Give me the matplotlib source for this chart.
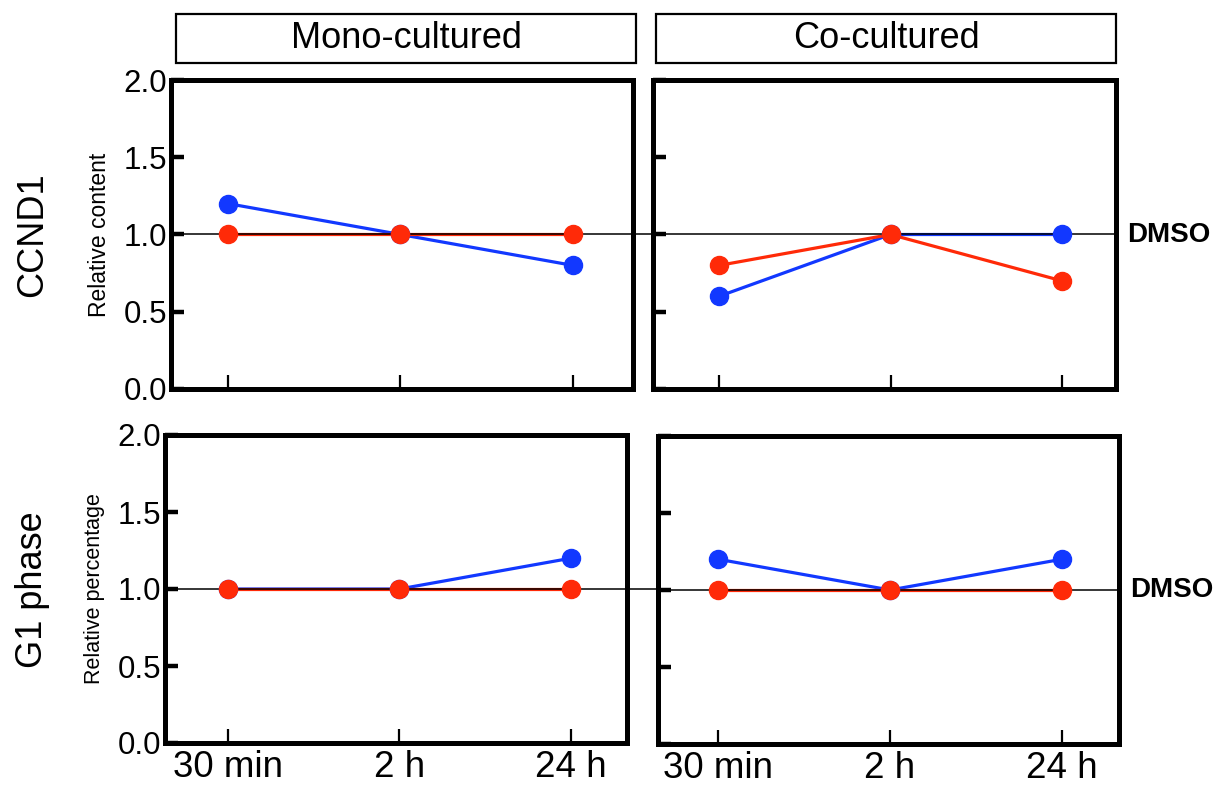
import numpy as np
import matplotlib
matplotlib.use('Agg')
import matplotlib.pyplot as plt
from matplotlib.patches import Rectangle
from matplotlib.transforms import blended_transform_factory

plt.rcParams['font.family'] = ['Liberation Sans', 'DejaVu Sans']

# data
times = ['30 min', '2 h', '24 h']
columns = ['Mono-cultured', 'Co-cultured']
rows = ['CCND1', 'G1 phase']
ylabels = ['Relative content', 'Relative percentage']

ccnd1_mono_blue = [1.2, 1.0, 0.8]
ccnd1_mono_red = [1.0, 1.0, 1.0]
ccnd1_co_blue = [0.6, 1.0, 1.0]
ccnd1_co_red = [0.8, 1.0, 0.7]
g1_mono_blue = [1.0, 1.0, 1.2]
g1_mono_red = [1.0, 1.0, 1.0]
g1_co_blue = [1.2, 1.0, 1.2]
g1_co_red = [1.0, 1.0, 1.0]
dmso_level = 1.0

BLUE = '#1238ff'
RED = '#ff2a08'

W, H = 1224, 787
fig = plt.figure(figsize=(W / 100, H / 100), dpi=100)


def px_axes(x0, y0, x1, y1):
    # pixel box (top-left origin) -> figure axes
    return fig.add_axes([x0 / W, 1 - y1 / H, (x1 - x0) / W, (y1 - y0) / H])


# pixel boxes and x limits for each panel
boxes = [[(171, 80, 633, 389), (653, 80, 1116, 389)],
         [(165, 435, 627, 743), (658, 436, 1119, 744)]]
xlims = [[(-0.33, 2.348), (-0.385, 2.315)],
         [(-0.367, 2.327), (-0.349, 2.331)]]
series = [[(ccnd1_mono_blue, ccnd1_mono_red), (ccnd1_co_blue, ccnd1_co_red)],
          [(g1_mono_blue, g1_mono_red), (g1_co_blue, g1_co_red)]]

x = np.arange(len(times))
axes = [[None, None], [None, None]]
for r in range(2):
    for c in range(2):
        ax = px_axes(*boxes[r][c])
        ax.patch.set_visible(False)
        axes[r][c] = ax
        blue, red = series[r][c]
        ax.plot(x, blue, color=BLUE, lw=2.3, zorder=2, clip_on=False)
        ax.plot(x, red, color=RED, lw=2.3, zorder=2.5, clip_on=False)
        ax.plot(x, blue, 'o', color=BLUE, ms=13, zorder=4, clip_on=False)
        ax.plot(x, red, 'o', color=RED, ms=13, zorder=4.5, clip_on=False)
        ax.set_xlim(*xlims[r][c])
        ax.set_ylim(0, 2)
        ax.set_xticks(x)
        ax.set_yticks([0, 0.5, 1.0, 1.5, 2.0])
        for s in ax.spines.values():
            s.set_linewidth(3.6)
        ax.tick_params(axis='y', direction='in', length=9, width=3.2, pad=3,
                       labelsize=22.5)
        ax.tick_params(axis='x', direction='in', length=10, width=1.6, pad=5,
                       labelsize=26.5)
        if c == 0:
            ax.set_yticklabels(['0.0', '0.5', '1.0', '1.5', '2.0'])
        else:
            ax.set_yticklabels([])
            ax.axhline(dmso_level, color='black', lw=1.1, zorder=3)
            ax.text(1.025, dmso_level, 'DMSO',
                    transform=blended_transform_factory(ax.transAxes, ax.transData),
                    ha='left', va='center', fontsize=20, fontweight='bold')
        if r == 1:
            ax.set_xticklabels(times)
        else:
            ax.set_xticklabels([])

# DMSO reference line from the left panel across the gap
for r in range(2):
    ax = axes[r][0]
    x0, _, x1, _ = boxes[r][0]
    xr = boxes[r][1][0]
    tr = blended_transform_factory(ax.transAxes, ax.transData)
    ax.plot([0, (xr - x0) / (x1 - x0)], [dmso_level, dmso_level],
            color='black', lw=1.1, transform=tr, clip_on=False, zorder=3)

# y labels and row labels
axes[0][0].set_ylabel(ylabels[0], fontsize=16.5, labelpad=9)
axes[1][0].set_ylabel(ylabels[1], fontsize=15.5, labelpad=9)
fig.text(33 / W, 1 - 235 / H, rows[0], rotation=90, ha='center', va='center', fontsize=26)
fig.text(33 / W, 1 - 590 / H, rows[1], rotation=90, ha='center', va='center', fontsize=26)

# column strips
strips = [(176, 14, 636, 63), (656, 14, 1116, 63)]
for (sx0, sy0, sx1, sy1), name in zip(strips, columns):
    fig.patches.append(Rectangle((sx0 / W, 1 - sy1 / H), (sx1 - sx0) / W, (sy1 - sy0) / H,
                                 transform=fig.transFigure, fill=False, lw=1.6,
                                 edgecolor='black'))
    fig.text((sx0 + sx1) / 2 / W, 1 - (sy0 + sy1) / 2 / H, name, ha='center', va='center',
             fontsize=26)

fig.savefig('out.png', dpi=100)
